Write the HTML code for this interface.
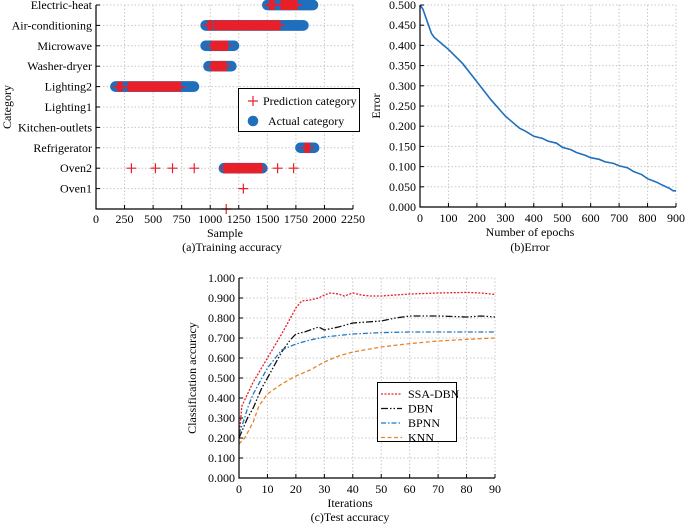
<!DOCTYPE html>
<html><head><meta charset="utf-8"><style>
body{margin:0;background:#fff;}
svg{display:block;font-family:"Liberation Serif",serif;}
.t{font-size:12px;fill:#000;}
.g{stroke:#c8c8c8;stroke-width:1;stroke-dasharray:1.5,2;}
</style></head><body>
<svg id="s" width="685" height="526" viewBox="0 0 685 526"></svg>
<script>
// ---------- Chart A data ----------
const catLabels=["","Oven1","Oven2","Refrigerator","Kitchen-outlets","Lighting1","Lighting2","Washer-dryer","Microwave","Air-conditioning","Electric-heat"];
const xTicksA=[0,250,500,750,1000,1250,1500,1750,2000,2250];
const actualRanges=[[10,1500,1900],[9,960,1820],[8,960,1210],[7,985,1185],[6,170,860],[3,1790,1910],[2,1120,1460]];
const predRanges=[[10,1520,1560],[10,1620,1760],[9,980,1020],[9,1040,1610],[8,1010,1150],[7,1010,1140],[6,190,230],[6,280,740],[3,1830,1870],[2,1120,1450]];
const predSingles=[[2,310],[2,520],[2,670],[2,860],[2,1590],[2,1730],[1,1290],[0,1140]];
// ---------- Chart B data ----------
const epochs=[0,10,20,30,40,50,75,100,150,200,250,300,350,370,400,430,450,480,500,530,550,580,600,630,650,680,700,730,750,780,800,830,850,880,890,900];
const errVals=[0.5,0.49,0.47,0.45,0.43,0.42,0.405,0.39,0.355,0.31,0.265,0.225,0.195,0.188,0.175,0.17,0.163,0.158,0.148,0.142,0.135,0.128,0.122,0.118,0.112,0.108,0.102,0.097,0.088,0.08,0.07,0.062,0.055,0.045,0.04,0.04];
const yTicksB=["0.000","0.050","0.100","0.150","0.200","0.250","0.300","0.350","0.400","0.450","0.500"];
const xTicksB=[0,100,200,300,400,500,600,700,800,900];
// ---------- Chart C data ----------
const ssaX=[0,1,5,10,15,20,22,25,28,30,32,35,37,40,43,46,50,60,70,80,85,90];
const ssaY=[0.2,0.36,0.48,0.6,0.72,0.85,0.885,0.89,0.9,0.915,0.925,0.92,0.91,0.925,0.915,0.91,0.91,0.92,0.925,0.928,0.925,0.918];
const dbnX=[0,3,5,8,10,15,18,20,23,25,28,30,35,40,45,50,55,60,70,80,85,90];
const dbnY=[0.2,0.3,0.35,0.45,0.5,0.63,0.69,0.72,0.73,0.74,0.755,0.74,0.755,0.775,0.78,0.785,0.8,0.81,0.81,0.805,0.81,0.805];
const bpX=[0,2,3,5,10,15,20,25,30,40,50,60,70,80,90];
const bpY=[0.22,0.3,0.35,0.42,0.55,0.64,0.67,0.69,0.705,0.72,0.727,0.73,0.73,0.73,0.73];
const knnX=[0,2,5,7,10,15,20,25,30,35,40,50,60,70,80,90];
const knnY=[0.17,0.2,0.28,0.36,0.42,0.47,0.51,0.54,0.58,0.61,0.63,0.655,0.672,0.685,0.693,0.7];
const yTicksC=["0.000","0.100","0.200","0.300","0.400","0.500","0.600","0.700","0.800","0.900","1.000"];
const xTicksC=[0,10,20,30,40,50,60,70,80,90];

const NS="http://www.w3.org/2000/svg";
const svg=document.getElementById('s');
function el(tag,attrs,parent,txt){const e=document.createElementNS(NS,tag);for(const k in attrs)e.setAttribute(k,attrs[k]);if(txt!==undefined)e.textContent=txt;(parent||svg).appendChild(e);return e;}
function grp(name){
  const g=el('g',{});
  
  
  return g;
}
function label(x,y,txt,name,g,anchor,rot){
  const a={x:x,y:y,'text-anchor':anchor||'middle',class:'t'};
  if(rot)a.transform=`rotate(-90 ${x} ${y})`;
  const t=el('text',a,g,txt);
  
  
  return t;
}

// ===== Chart A =====
const ax=v=>96+(v/2250)*257, ay=v=>209-v*20.4;
const gA=grp('training-accuracy-chart');
xTicksA.forEach(v=>{
  el('line',{x1:ax(v),x2:ax(v),y1:5,y2:209,class:'g'},gA);
  el('line',{x1:ax(v),x2:ax(v),y1:209,y2:205,stroke:'#000'},gA);
  label(ax(v),223,v,'x-tick-label',gA);
});
catLabels.forEach((c,i)=>{
  if(i===0)return;
  el('line',{x1:96,x2:353,y1:ay(i),y2:ay(i),class:'g'},gA);
  el('line',{x1:96,x2:100,y1:ay(i),y2:ay(i),stroke:'#000'},gA);
  label(92,ay(i)+4,c,'category-label',gA,'end');
});
actualRanges.forEach(r=>{for(let v=r[1];v<=r[2];v+=8){
  const c=el('circle',{cx:ax(v),cy:ay(r[0]),r:5.3,fill:'#1f6fbd'},gA);
  
  
}});
function plus(x,y,g){
  const p=el('path',{d:`M${x-5},${y}H${x+5}M${x},${y-5}V${y+5}`,stroke:'#e8202a','stroke-width':1.2,fill:'none'},g);
  
  
}
predRanges.forEach(r=>{for(let v=r[1];v<=r[2];v+=5)plus(ax(v),ay(r[0]),gA);});
predSingles.forEach(p=>plus(ax(p[1]),ay(p[0]),gA));
el('path',{d:'M96,5V209H353',stroke:'#000',fill:'none','stroke-width':1.2},gA);
const lgA=grp('legend-a');
el('rect',{x:238.5,y:88.5,width:121,height:43,fill:'#fff',stroke:'#000'},lgA);
plus(253,101,lgA);
label(263,105,'Prediction category','legend-prediction',lgA,'start');
el('circle',{cx:253,cy:121,r:5.3,fill:'#1f6fbd'},lgA);
label(268,125,'Actual category','legend-actual',lgA,'start');
label(225,237,'Sample','x-axis-title-a',gA);
label(232,251,'(a)Training accuracy','caption-a',gA);
label(11,107,'Category','y-axis-title-a',gA,'middle',true);

// ===== Chart B =====
const bx=v=>420+(v/900)*256, by=v=>207-(v/0.5)*202;
const gB=grp('error-chart');
xTicksB.forEach(v=>{
  el('line',{x1:bx(v),x2:bx(v),y1:5,y2:207,class:'g'},gB);
  el('line',{x1:bx(v),x2:bx(v),y1:207,y2:203,stroke:'#000'},gB);
  label(bx(v),222,v,'x-tick-label',gB);
});
yTicksB.forEach(s=>{
  const v=parseFloat(s);
  el('line',{x1:420,x2:676,y1:by(v),y2:by(v),class:'g'},gB);
  el('line',{x1:420,x2:424,y1:by(v),y2:by(v),stroke:'#000'},gB);
  label(416,by(v)+4,s,'y-tick-label',gB,'end');
});
const errPath=el('path',{d:epochs.map((e,i)=>(i?'L':'M')+bx(e)+','+by(errVals[i])).join(''),fill:'none',stroke:'#1f6fbd','stroke-width':1.6},gB);


el('path',{d:'M420,5V207H676',stroke:'#000',fill:'none','stroke-width':1.2},gB);
label(530,236,'Number of epochs','x-axis-title-b',gB);
label(530,251,'(b)Error','caption-b',gB);
label(380,106,'Error','y-axis-title-b',gB,'middle',true);

// ===== Chart C =====
const cx=v=>239+(v/90)*256, cy=v=>478-v*200;
const gC=grp('test-accuracy-chart');
xTicksC.forEach(v=>{
  el('line',{x1:cx(v),x2:cx(v),y1:278,y2:478,class:'g'},gC);
  el('line',{x1:cx(v),x2:cx(v),y1:478,y2:474,stroke:'#000'},gC);
  label(cx(v),493,v,'x-tick-label',gC);
});
yTicksC.forEach(s=>{
  const v=parseFloat(s);
  el('line',{x1:239,x2:495,y1:cy(v),y2:cy(v),class:'g'},gC);
  el('line',{x1:239,x2:243,y1:cy(v),y2:cy(v),stroke:'#000'},gC);
  label(235,cy(v)+4,s,'y-tick-label',gC,'end');
});
const series=[
  ['ssa-dbn-line',ssaX,ssaY,'#e8202a','2,1.5'],
  ['dbn-line',dbnX,dbnY,'#111','7,2,1.5,2,1.5,2'],
  ['bpnn-line',bpX,bpY,'#1f78c0','5,2,1.5,2'],
  ['knn-line',knnX,knnY,'#e8842a','4,2.5']
];
series.forEach(s=>{
  const p=el('path',{d:s[1].map((x,i)=>(i?'L':'M')+cx(x)+','+cy(s[2][i])).join(''),fill:'none',stroke:s[3],'stroke-width':1.3,'stroke-dasharray':s[4]},gC);
  
  
});
el('path',{d:'M239,278V478H495',stroke:'#000',fill:'none','stroke-width':1.2},gC);
const lgC=grp('legend-c');
el('rect',{x:377.5,y:382.5,width:79,height:59,fill:'#fff',stroke:'#000'},lgC);
const names=['SSA-DBN','DBN','BPNN','KNN'];
names.forEach((n,i)=>{
  const y=394+i*14.5;
  el('line',{x1:381,x2:402,y1:y,y2:y,stroke:series[i][3],'stroke-width':1.3,'stroke-dasharray':series[i][4]},lgC);
  label(408,y+4,n,'legend-entry',lgC,'start');
});
label(350,507,'Iterations','x-axis-title-c',gC);
label(350,521,'(c)Test accuracy','caption-c',gC);
label(196,378,'Classification  accuracy','y-axis-title-c',gC,'middle',true);
</script>
</body></html>
